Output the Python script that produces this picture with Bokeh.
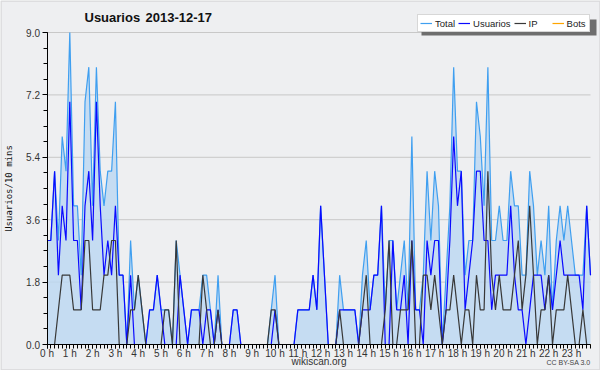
from bokeh.plotting import figure
from bokeh.models import (ColumnDataSource, Range1d, FixedTicker, Legend, LegendItem,
                          Label, PrintfTickFormatter, BoxAnnotation)
from bokeh.embed import file_html
from bokeh.resources import INLINE

# 10-minute slots of the day (minutes after midnight)
minutes = list(range(0, 1440, 10))

usuarios = [
    3, 3, 5, 2, 4, 3, 7, 3, 3, 1, 4, 5,
    3, 7, 4, 2, 3, 2, 4, 2, 2, 0, 2, 0,
    0, 0, 0, 1, 1, 2, 1, 0, 0, 0, 0, 2,
    1, 0, 1, 1, 1, 0, 1, 1, 0, 1, 0, 0,
    0, 1, 1, 0, 0, 0, 0, 0, 0, 0, 0, 0,
    1, 0, 0, 0, 0, 0, 1, 1, 1, 1, 2, 1,
    4, 2, 0, 0, 0, 1, 1, 1, 1, 1, 0, 1,
    1, 1, 2, 2, 4, 0, 0, 3, 1, 1, 2, 0,
    3, 1, 1, 0, 3, 2, 3, 3, 0, 1, 3, 6,
    4, 5, 1, 2, 3, 5, 5, 3, 3, 1, 2, 2,
    2, 2, 4, 2, 1, 1, 0, 1, 2, 2, 2, 1,
    2, 1, 2, 3, 2, 2, 2, 2, 2, 1, 4, 2,
]

ip = [
    0, 0, 0, 1, 2, 2, 2, 1, 1, 1, 3, 3,
    1, 1, 1, 2, 2, 3, 3, 0, 0, 0, 1, 1,
    2, 1, 0, 0, 0, 0, 0, 1, 1, 0, 3, 0,
    0, 0, 0, 0, 0, 2, 1, 0, 0, 1, 0, 0,
    0, 0, 0, 0, 0, 0, 0, 0, 0, 0, 0, 1,
    1, 0, 0, 0, 0, 0, 0, 0, 0, 0, 0, 0,
    0, 0, 0, 0, 0, 1, 0, 0, 0, 0, 0, 1,
    2, 0, 0, 0, 0, 1, 3, 0, 0, 1, 1, 1,
    3, 0, 0, 2, 2, 1, 2, 1, 0, 1, 1, 2,
    1, 0, 1, 1, 0, 2, 1, 1, 5, 2, 1, 2,
    1, 1, 1, 2, 3, 1, 2, 4, 2, 0, 1, 1,
    2, 0, 1, 1, 1, 2, 1, 0, 0, 1, 0, 0,
]

total = [
    3, 3, 5, 3, 6, 5, 9, 4, 4, 2, 7, 8,
    4, 8, 5, 4, 5, 5, 7, 2, 2, 0, 3, 1,
    2, 1, 0, 1, 1, 2, 1, 1, 1, 0, 3, 2,
    1, 0, 1, 1, 1, 2, 2, 1, 0, 2, 0, 0,
    0, 1, 1, 0, 0, 0, 0, 0, 0, 0, 0, 1,
    2, 0, 0, 0, 0, 0, 1, 1, 1, 1, 2, 1,
    4, 2, 0, 0, 0, 2, 1, 1, 1, 1, 0, 2,
    3, 1, 2, 2, 4, 1, 3, 3, 1, 2, 3, 1,
    6, 1, 1, 2, 5, 3, 5, 4, 0, 2, 4, 8,
    5, 5, 2, 3, 3, 7, 6, 4, 8, 3, 3, 4,
    3, 3, 5, 4, 4, 2, 2, 5, 4, 2, 3, 2,
    4, 1, 3, 4, 3, 4, 3, 2, 2, 2, 4, 2,
]

bots = [
    0, 0, 0, 0, 0, 0, 0, 0, 0, 0, 0, 0,
    0, 0, 0, 0, 0, 0, 0, 0, 0, 0, 0, 0,
    0, 0, 0, 0, 0, 0, 0, 0, 0, 0, 0, 0,
    0, 0, 0, 0, 0, 0, 0, 0, 0, 0, 0, 0,
    0, 0, 0, 0, 0, 0, 0, 0, 0, 0, 0, 0,
    0, 0, 0, 0, 0, 0, 0, 0, 0, 0, 0, 0,
    0, 0, 0, 0, 0, 0, 0, 0, 0, 0, 0, 0,
    0, 0, 0, 0, 0, 0, 0, 0, 0, 0, 0, 0,
    0, 0, 0, 0, 0, 0, 0, 0, 0, 0, 0, 0,
    0, 0, 0, 0, 0, 0, 0, 0, 0, 0, 0, 0,
    0, 0, 0, 0, 0, 0, 0, 0, 0, 0, 0, 0,
    0, 0, 0, 0, 0, 0, 0, 0, 0, 0, 0, 0,
]

hour_ticks = list(range(24))
y_ticks = [0.0, 1.8, 3.6, 5.4, 7.2, 9.0]
y_minor = [0.45 * k for k in range(21)]
title_word = "Usuarios"
title_date = "2013-12-17"

BG = "#EEEFF1"
C_TOTAL = "#3F9FF0"
C_FILL = "#BCD8F1"
C_USR = "#0A0AFF"
C_IP = "#383838"
C_BOTS = "#FFA500"
C_GRID = "#C8C8C8"

W, H = 600, 370
hours = [m / 60 for m in minutes]
x_end = hours[-1]
# pixel geometry (the frame covers the whole canvas)
X0_PX, XEND_PX = 46.5, 590.0      # x = 0 h and x = last slot
Y0_PX, Y9_PX = 344.0, 32.0        # y = 0 and y = 9 (from top)
px_per_h = (XEND_PX - X0_PX) / x_end
px_per_u = (Y0_PX - Y9_PX) / 9.0
x_range = Range1d(-X0_PX / px_per_h, x_end + (W - XEND_PX) / px_per_h)
y_range = Range1d(-(H - Y0_PX) / px_per_u, 9.0 + Y9_PX / px_per_u)

src = ColumnDataSource(dict(x=hours, total=total, usuarios=usuarios, ip=ip, bots=bots))
grid_src = ColumnDataSource(dict(y=y_ticks, x0=[0] * len(y_ticks), x1=[x_end] * len(y_ticks)))

p = figure(width=W, height=H, output_backend="svg", toolbar_location=None, title=None,
           x_range=x_range, y_range=y_range,
           min_border_left=0, min_border_right=0, min_border_top=0, min_border_bottom=0,
           background_fill_color=BG, border_fill_color=BG, outline_line_color=None)

p.xgrid.visible = False
p.ygrid.visible = False
p.segment(x0="x0", x1="x1", y0="y", y1="y", source=grid_src, line_color=C_GRID, line_width=1)

p.varea(x="x", y1=0, y2="total", source=src, fill_color=C_FILL, fill_alpha=0.82)
r_total = p.line("x", "total", source=src, line_color=C_TOTAL, line_width=1.2)
r_usr = p.line("x", "usuarios", source=src, line_color=C_USR, line_width=1.2)
r_ip = p.line("x", "ip", source=src, line_color=C_IP, line_width=1.2)
r_bots = p.line("x", "bots", source=src, line_color=C_BOTS, line_width=1.2)

# x axis
xa = p.xaxis[0]
xa.fixed_location = 0
xa.bounds = (0, x_end)
xa.ticker = FixedTicker(ticks=hour_ticks, minor_ticks=hours)
xa.formatter = PrintfTickFormatter(format="%d h")
xa.axis_line_color = "black"
xa.major_tick_line_color = "black"
xa.minor_tick_line_color = "black"
xa.major_tick_in = 0
xa.major_tick_out = 4
xa.minor_tick_in = 0
xa.minor_tick_out = 4
xa.major_label_standoff = -1
xa.major_label_text_font = "Liberation Sans"
xa.major_label_text_font_size = "10px"
xa.major_label_text_color = "#333333"
xa.axis_label = "wikiscan.org"
xa.axis_label_text_font = "Liberation Sans"
xa.axis_label_text_font_size = "10px"
xa.axis_label_text_font_style = "normal"
xa.axis_label_text_color = "#333333"
xa.axis_label_standoff = -6

# y axis
ya = p.yaxis[0]
ya.fixed_location = 0
ya.bounds = (0, 9)
ya.ticker = FixedTicker(ticks=y_ticks, minor_ticks=y_minor)
ya.formatter = PrintfTickFormatter(format="%.1f")
ya.axis_line_color = "black"
ya.major_tick_line_color = "black"
ya.minor_tick_line_color = "black"
ya.major_tick_in = 0
ya.major_tick_out = 5
ya.minor_tick_in = 0
ya.minor_tick_out = 4
ya.major_label_standoff = 2
ya.major_label_text_font = "Liberation Sans"
ya.major_label_text_font_size = "10px"
ya.major_label_text_color = "#333333"
ya.axis_label = "Usuarios/10 mins"
ya.axis_label_text_font = "DejaVu Sans Mono"
ya.axis_label_text_font_size = "9px"
ya.axis_label_text_font_style = "normal"
ya.axis_label_text_color = "#111111"
ya.axis_label_standoff = 10

# outer frame of the image and legend shadow
p.add_layout(BoxAnnotation(left=0.5, right=W - 0.5, bottom=0.5, top=H - 0.5,
                           left_units="screen", right_units="screen",
                           bottom_units="screen", top_units="screen",
                           fill_alpha=0, line_color="#A4A4A4", line_width=1.5))
p.add_layout(BoxAnnotation(left=421, right=596, bottom=H - 35, top=H - 19,
                           left_units="screen", right_units="screen",
                           bottom_units="screen", top_units="screen",
                           fill_color="#6E6E6E", fill_alpha=1, line_alpha=0))

legend = Legend(items=[
    LegendItem(label="Total", renderers=[r_total]),
    LegendItem(label="Usuarios", renderers=[r_usr]),
    LegendItem(label="IP", renderers=[r_ip]),
    LegendItem(label="Bots", renderers=[r_bots]),
], orientation="horizontal", location=(417, H - 32), margin=0)
legend.border_line_color = "#B0B0B0"
legend.border_line_width = 1
legend.background_fill_color = "white"
legend.background_fill_alpha = 1.0
legend.label_text_font = "Liberation Sans"
legend.label_text_font_size = "9.5px"
legend.label_text_color = "#222222"
legend.glyph_width = 12
legend.glyph_height = 12
legend.label_height = 12
legend.label_standoff = 3
legend.spacing = 3
legend.padding = 2
p.add_layout(legend)

p.add_layout(Label(x=84, y=H - 17, x_units="screen", y_units="screen", text=title_word,
                   text_font="Liberation Sans", text_font_style="bold",
                   text_font_size="13px", text_baseline="middle", text_color="#111111"))
p.add_layout(Label(x=145, y=H - 17, x_units="screen", y_units="screen", text=title_date,
                   text_font="Liberation Sans", text_font_style="bold",
                   text_font_size="13px", text_baseline="middle", text_color="#111111"))
p.add_layout(Label(x=XEND_PX, y=8, x_units="screen", y_units="screen", text="CC BY-SA 3.0",
                   text_font="Liberation Sans", text_font_size="7px", text_align="right",
                   text_baseline="middle", text_color="#444444"))

open("out.html", "w").write(file_html(p, INLINE))
